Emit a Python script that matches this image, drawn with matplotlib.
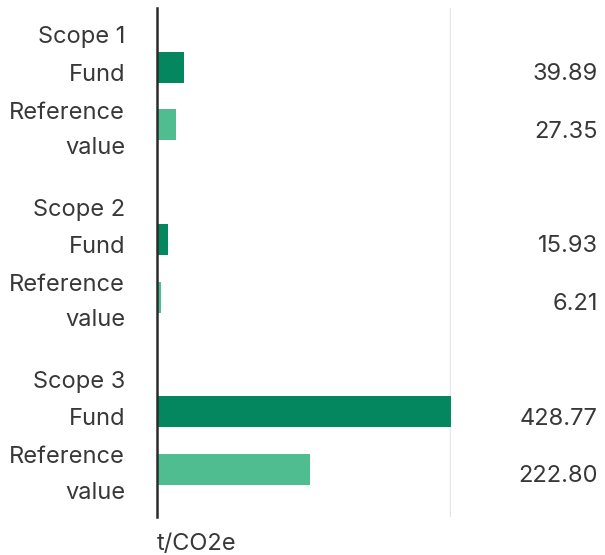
import numpy as np
import matplotlib
matplotlib.use("Agg")
import matplotlib.pyplot as plt

plt.rcParams['font.family'] = ['Inter', 'DejaVu Sans']

# data
scopes = ["Scope 1", "Scope 2", "Scope 3"]
fund = [39.89, 15.93, 428.77]
reference = [27.35, 6.21, 222.80]
unit = "t/CO2e"

fund_color = "#04875f"
ref_color = "#4fbd8f"
text_color = "#383838"

fig = plt.figure(figsize=(6.05, 5.55), dpi=100)
ax = fig.add_axes([157/605, 1 - 517/555, 294/605, 509/555])

# each scope takes three rows: fund, reference, gap
y_fund = np.arange(len(scopes)) * 3
y_ref = y_fund + 1

ax.barh(y_fund, fund, height=0.54, color=fund_color, zorder=2)
ax.barh(y_ref, reference, height=0.54, color=ref_color, zorder=2)

ax.set_xlim(0, max(fund))
ax.set_ylim(y_ref[-1] + 0.83, y_fund[0] - 1.036)

for s in ["top", "bottom", "right"]:
    ax.spines[s].set_visible(False)
ax.spines["left"].set_color("#2b2b2b")
ax.spines["left"].set_linewidth(1.8)
ax.set_xticks([])
ax.set_yticks([])
ax.axvline(max(fund), color="#e2e6ed", lw=2.4, zorder=1)

tr = ax.get_yaxis_transform()
fs = 17
for i, name in enumerate(scopes):
    ax.text(-0.108, y_fund[i] - 0.42, name, transform=tr, ha="right",
            va="baseline", fontsize=fs, color=text_color)
    ax.text(-0.108, y_fund[i] + 0.23, "Fund", transform=tr, ha="right",
            va="baseline", fontsize=fs, color=text_color)
    ax.text(-0.108, y_ref[i] - 0.11, "Reference", transform=tr, ha="right",
            va="baseline", fontsize=fs, color=text_color)
    ax.text(-0.108, y_ref[i] + 0.51, "value", transform=tr, ha="right",
            va="baseline", fontsize=fs, color=text_color)
    ax.text(1.5, y_fund[i] + 0.22, f"{fund[i]:.2f}", transform=tr, ha="right",
            va="baseline", fontsize=fs, color=text_color)
    ax.text(1.5, y_ref[i] + 0.22, f"{reference[i]:.2f}", transform=tr, ha="right",
            va="baseline", fontsize=fs, color=text_color)

ax.text(0.0, -0.064, unit, transform=ax.transAxes, ha="left", va="baseline",
        fontsize=fs, color=text_color)

fig.savefig("out.png", dpi=100)
